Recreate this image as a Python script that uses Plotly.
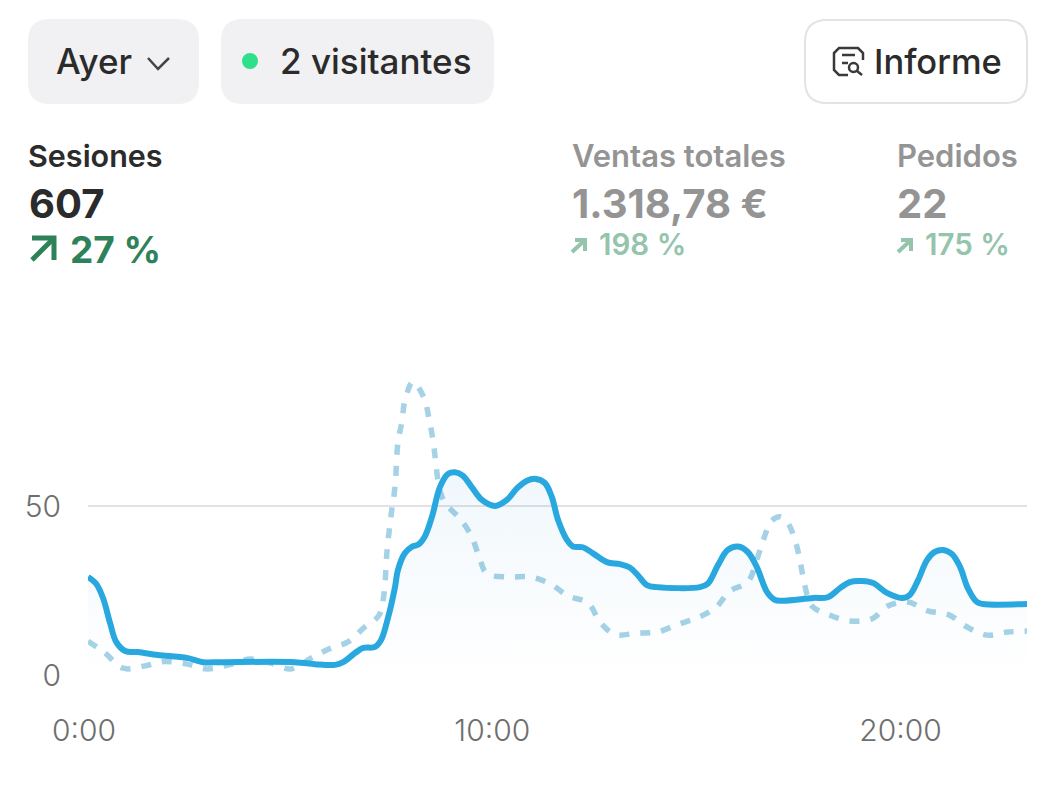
import plotly.graph_objects as go

W, H = 1058, 799

# values, x in hours
sesiones_h = [0, 0.2, 0.37, 0.54, 0.69, 0.91, 1.22, 1.71, 2.2, 2.45, 2.82, 3.26, 5.07, 5.56, 6.05, 6.25, 6.54, 6.74,
              7.03, 7.18, 7.35, 7.52, 7.59, 7.76, 7.94, 8.08, 8.25, 8.43, 8.62, 8.82, 8.99, 9.18, 9.4, 9.65,
              9.97, 10.26, 10.51, 10.75, 10.97, 11.19, 11.36, 11.51, 11.73, 11.88, 12.12, 12.37, 12.71, 13.03,
              13.27, 13.47, 13.69, 13.94, 14.99, 15.18, 15.43, 15.67, 15.92, 16.16, 16.38, 16.63, 16.83, 17.02,
              17.76, 18.12, 18.42, 18.66, 18.96, 19.23, 19.57, 19.94, 20.13, 20.33, 20.55, 20.74, 20.94, 21.16,
              21.36, 21.55, 21.77, 21.92, 23]
sesiones = [29, 27, 22.7, 15.4, 9.8, 7.1, 6.8, 5.9, 5.4, 5, 3.8, 3.8, 3.8, 3.2, 3, 3.8, 6.5, 8,
            8.3, 10.4, 17, 26, 31, 36, 38, 38.5, 41, 47, 55.6, 59.5, 60, 59, 55.6, 51.8,
            50, 51.8, 55.3, 57.5, 58, 56.8, 52.7, 46, 40, 38, 37.8, 36, 33.4, 32.8,
            31.8, 29.5, 26.6, 26, 26, 27, 32.5, 37, 38, 36.4, 32, 24.6, 22.2, 22,
            22.8, 23, 25.7, 27.5, 27.8, 27.2, 24.3, 22.8, 23.7, 28, 34, 36.4, 37, 35.8,
            32, 25.7, 21.6, 21, 21]
previo_h = [0, 0.42, 0.86, 1.4, 1.86, 2.4, 2.91, 3.45, 3.97, 4.48, 4.97, 5.46, 5.9, 6.37, 6.76, 7.13, 7.25, 7.32,
            7.42, 7.52, 7.59, 7.69, 7.76, 7.96, 8.23, 8.35, 8.45, 8.52, 8.6, 8.74, 9.09, 9.38, 9.58, 9.77,
            10.31, 10.83, 11.32, 11.76, 12.25, 12.54, 12.91, 13.45, 13.94, 14.45, 14.94, 15.38, 15.72, 16.16,
            16.38, 16.53, 16.75, 16.95, 17.14, 17.34, 17.46, 17.56, 17.73, 18.15, 18.66, 19.2, 19.59, 20.08,
            20.57, 21.09, 21.53, 22.02, 22.53, 23]
previo = [10, 6.5, 2, 2.7, 4, 3.3, 1.8, 3, 4.7, 3.5, 1.8, 5, 7.7, 9.8, 14, 17.7, 24, 36,
          47, 55.6, 68.6, 75, 81, 86.7, 82, 76, 69.5, 62.7, 55.6, 51, 46.5, 41.4, 35, 30,
          29, 29, 27, 23.4, 21.3, 15.7, 12, 12.4, 12.7, 15, 17, 20, 24.8, 27.5,
          34, 39.6, 45.6, 46.8, 45, 39, 32.5, 26.3, 20.4, 17.8, 16, 16.6, 20.4, 21.6,
          19, 17.8, 14.2, 11.8, 12.7, 13]
x_ticks = [0, 10, 20]
x_labels = ["0:00", "10:00", "20:00"]
y_ticks = [0, 50]

DARK = "#2b2b2b"
GREY = "#949494"
GREEN = "#2e8158"
GREEN_LIGHT = "#94c4ab"
CHIP = "#f1f1f3"
FONT = "Inter"


def px(x):
    return x / W


def py(y):
    return 1 - y / H


def rounded(x0, y0, x1, y1, r):
    return (
        f"M {px(x0 + r)} {py(y0)} L {px(x1 - r)} {py(y0)} Q {px(x1)} {py(y0)} {px(x1)} {py(y0 + r)} "
        f"L {px(x1)} {py(y1 - r)} Q {px(x1)} {py(y1)} {px(x1 - r)} {py(y1)} "
        f"L {px(x0 + r)} {py(y1)} Q {px(x0)} {py(y1)} {px(x0)} {py(y1 - r)} "
        f"L {px(x0)} {py(y0 + r)} Q {px(x0)} {py(y0)} {px(x0 + r)} {py(y0)} Z"
    )


def polyline(points):
    return "M " + " L ".join(f"{px(x)} {py(y)}" for x, y in points)


fig = go.Figure()

fig.add_trace(go.Scatter(
    x=previo_h, y=previo, mode="lines",
    line=dict(color="#a5d2e6", width=5.5, shape="spline", smoothing=1, dash="10px,11px"),
    cliponaxis=False,
))
fig.add_trace(go.Scatter(
    x=sesiones_h, y=sesiones, mode="lines",
    line=dict(color="#29a8e0", width=6, shape="spline", smoothing=1),
    fill="tozeroy",
    fillgradient=dict(
        type="vertical",
        colorscale=[[0, "rgba(41,140,200,0.0)"], [1, "rgba(41,140,200,0.07)"]],
    ),
    cliponaxis=False,
))

# chips, button, icons
shapes = [
    dict(type="path", path=rounded(28, 19, 199, 104, 22), fillcolor=CHIP, line_width=0),
    dict(type="path", path=rounded(221, 19, 494, 104, 22), fillcolor=CHIP, line_width=0),
    dict(type="path", path=rounded(805, 20, 1027, 103, 22), fillcolor="white",
         line=dict(color="#e3e3e3", width=2)),
    dict(type="circle", x0=px(242), x1=px(258), y0=py(69), y1=py(53), fillcolor="#2fe08a", line_width=0),
]
strokes = [
    ([(148, 58), (158, 69), (169, 58)], "#444444", 2.5),
    ([(32, 260), (54, 238)], GREEN, 5),
    ([(32, 238), (54, 238), (54, 260)], GREEN, 5),
    ([(572, 252), (585, 240)], GREEN_LIGHT, 4),
    ([(575, 240), (585, 240), (585, 251)], GREEN_LIGHT, 4),
    ([(898, 252), (911, 240)], GREEN_LIGHT, 4),
    ([(901, 240), (911, 240), (911, 251)], GREEN_LIGHT, 4),
    ([(863, 60), (863, 53), (858, 48), (839, 48), (834, 53), (834, 70), (839, 75), (848, 75)], "#3a3a3a", 2.5),
    ([(842, 55), (855, 55)], "#3a3a3a", 2.5),
    ([(842, 63), (848, 63)], "#3a3a3a", 2.5),
    ([(857, 71), (862, 75)], "#3a3a3a", 2.5),
]
for pts, color, width in strokes:
    shapes.append(dict(type="path", path=polyline(pts), line=dict(color=color, width=width)))
shapes.append(dict(type="circle", x0=px(849), x1=px(858), y0=py(72), y1=py(63),
                   line=dict(color="#3a3a3a", width=2.5)))
for s in shapes:
    s.update(xref="paper", yref="paper", layer="above")

# text at left edge / vertical centre in picture pixels
texts = [
    ("Ayer", 55, 61, 35, 550, DARK),
    ("2 visitantes", 278.5, 61, 35, 550, DARK),
    ("Informe", 873.5, 61, 34.5, 550, DARK),
    ("Sesiones", 27, 156, 30.5, 600, DARK),
    ("607", 28, 204, 40, 700, DARK),
    ("27 %", 68.5, 249, 37, 700, GREEN),
    ("Ventas totales", 570.5, 156, 31, 600, GREY),
    ("1.318,78 €", 570.5, 204, 40, 700, GREY),
    ("198 %", 597.5, 244, 29.5, 600, GREEN_LIGHT),
    ("Pedidos", 895.5, 156, 31, 600, GREY),
    ("22", 896, 204, 40, 700, GREY),
    ("175 %", 923.5, 244, 29.5, 600, GREEN_LIGHT),
]
annotations = [
    dict(text=t, x=px(x), y=py(y), xref="paper", yref="paper", xanchor="left", yanchor="middle",
         showarrow=False, borderpad=0, font=dict(family=FONT, size=size, weight=weight, color=color))
    for t, x, y, size, weight, color in texts
]

fig.update_layout(
    width=W, height=H,
    margin=dict(l=0, r=0, t=0, b=0),
    paper_bgcolor="white",
    plot_bgcolor="white",
    showlegend=False,
    shapes=shapes,
    annotations=annotations,
    xaxis=dict(
        domain=[px(88), px(1027)],
        range=[0, 23],
        tickvals=x_ticks,
        ticktext=x_labels,
        showgrid=False,
        zeroline=False,
        ticks="",
        automargin=False,
        ticklabelshift=-4,
        ticklabelstandoff=35,
        tickfont=dict(family=FONT, size=30, weight=300, color="#6e6e6e"),
    ),
    yaxis=dict(
        domain=[py(675), py(337)],
        range=[0, 100],
        tickvals=y_ticks,
        showgrid=True,
        gridcolor="#e2e2e4",
        gridwidth=2,
        zeroline=False,
        ticks="",
        automargin=False,
        ticklabelstandoff=26,
        tickfont=dict(family=FONT, size=30, weight=300, color="#6e6e6e"),
    ),
)

fig.write_html("out.html", config=dict(displayModeBar=False),
               post_script="document.body.style.margin='0';")
